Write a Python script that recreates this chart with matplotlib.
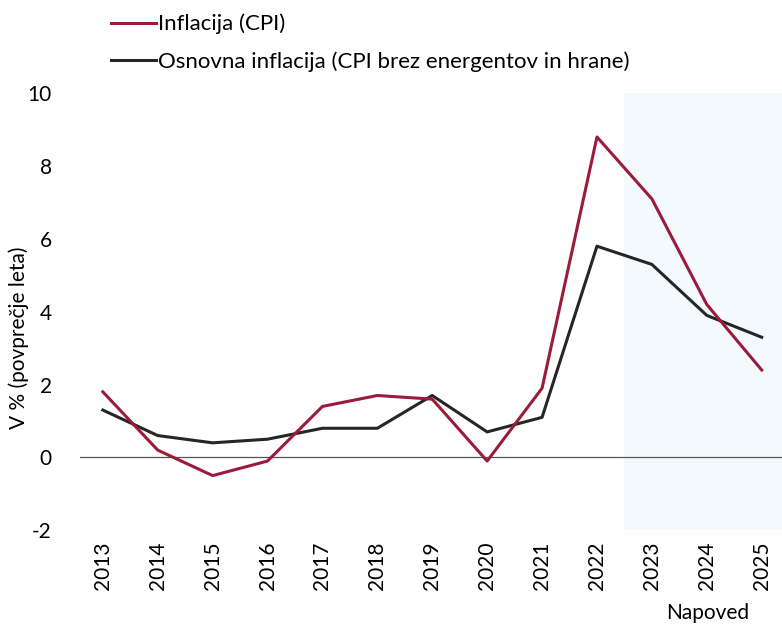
import matplotlib.pyplot as plt
import numpy as np

plt.rcParams['font.family'] = ['Lato', 'DejaVu Sans']

years = list(range(2013, 2026))
cpi = [1.8, 0.2, -0.5, -0.1, 1.4, 1.7, 1.6, -0.1, 1.9, 8.8, 7.1, 4.2, 2.4]
core = [1.3, 0.6, 0.4, 0.5, 0.8, 0.8, 1.7, 0.7, 1.1, 5.8, 5.3, 3.9, 3.3]
forecast_start = 2022.5

fig = plt.figure(figsize=(7.82, 6.26), dpi=100)
ax = fig.add_axes([0.102, 0.153, 0.898, 0.698])

ax.axvspan(forecast_start, 2025.4, color='#f3f9fd', zorder=0)
ax.axhline(0, color='#555555', lw=0.9, zorder=1)

l1, = ax.plot(years, cpi, color='#9b1b3a', lw=2.2, label='Inflacija (CPI)', zorder=3)
l2, = ax.plot(years, core, color='#262626', lw=2.2,
              label='Osnovna inflacija (CPI brez energentov in hrane)', zorder=2)

ax.set_xlim(2012.58, 2025.37)
ax.set_ylim(-2, 10)
ax.set_yticks([-2, 0, 2, 4, 6, 8, 10])
ax.set_yticklabels(['-2', '0', '2', '4', '6', '8', '10'])
ax.set_xticks(years)
ax.set_xticklabels([str(y) for y in years], rotation=90)
ax.tick_params(length=0, labelsize=15, pad=8)
ax.tick_params(axis='y', pad=20)
for s in ax.spines.values():
    s.set_visible(False)

ax.set_ylabel('V % (povprečje leta)', fontsize=15)
ax.yaxis.set_label_coords(-0.072, 0.44)

fig.legend(handles=[l1, l2], loc='upper left', bbox_to_anchor=(0.117, 1.01),
           frameon=False, fontsize=16, handlelength=2.0, handletextpad=0.1,
           labelspacing=0.75)

fig.text(0.905, 0.005, 'Napoved', fontsize=15, ha='center', va='bottom')

fig.savefig('out.png', dpi=100)
